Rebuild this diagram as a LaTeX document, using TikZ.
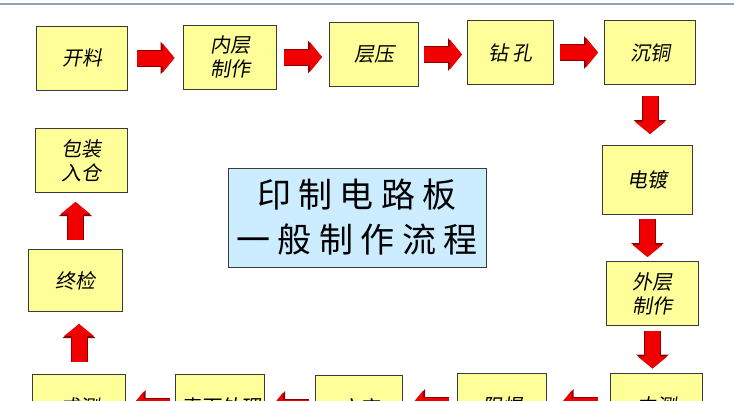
\documentclass[tikz,border=0pt]{standalone}
\usepackage{fontspec}
\usepackage{xcolor}
\newfontfamily\cjkit[FakeSlant=0.18]{Noto Sans CJK SC}
\newfontfamily\cjkti[LetterSpace=22]{Noto Sans CJK SC}
\usetikzlibrary{positioning,arrows.meta}
\definecolor{boxfill}{HTML}{FFFF99}
\definecolor{titlefill}{HTML}{CCECFF}
\definecolor{edge}{HTML}{3A3A3A}
\definecolor{rulec}{HTML}{8EA6BC}
\definecolor{arrred}{HTML}{F00000}
\definecolor{arrdark}{HTML}{8A0000}
\tikzset{
  box/.style={rectangle,draw=edge,fill=boxfill,line width=1pt,align=center,
    inner sep=0pt,minimum width=91pt,minimum height=64pt,
    font=\cjkit\fontsize{20}{24}\selectfont},
  titlebox/.style={rectangle,draw=edge,fill=titlefill,line width=1pt,align=center,
    inner sep=0pt,minimum width=258pt,minimum height=99pt,
    font=\cjkti\fontsize{34}{45}\selectfont},
  fl/.style={draw=arrred,line width=15pt,-{Triangle[length=12pt,width=29pt]},
    shorten <=#1,shorten >=#1,
    preaction={draw=arrdark,line width=17pt,-{Triangle[length=14pt,width=32pt]}}},
  fl/.default=7pt,
}

\begin{document}
\begin{tikzpicture}[x=1pt,y=1pt]
  \useasboundingbox (0,0) rectangle (734,-400);
  \clip (0,0) rectangle (734,-400);
  \draw[rulec,line width=2pt] (0,-4) -- (734,-4);
  % top row
  \node[box] (kl) at (82,-58) {开料};
  \node[box,right=55pt of kl,yshift=1pt,minimum width=93pt] (nc) {内层\\制作};
  \node[box,right=52pt of nc,yshift=2.5pt,minimum width=89pt] (cy) {层压};
  \node[box,right=48pt of cy,yshift=2pt,minimum width=86pt] (zk) {钻\ 孔};
  \node[box,right=50pt of zk] (ct) {沉铜};
  % right column
  \node[box,below=60pt of ct,xshift=-2.5pt,minimum width=90pt,minimum height=69pt] (dd) {电镀};
  \node[box,below=46pt of dd,xshift=5pt,minimum width=92pt] (wc) {外层\\制作};
  \node[box,below=47pt of wc,xshift=4pt,minimum width=92pt] (zc) {中测};
  % bottom row
  \node[box,left=63pt of zc,minimum width=89pt] (zh) {阻焊};
  \node[box,left=54pt of zh,yshift=-2pt,minimum width=87pt] (wz) {文字};
  \node[box,left=50pt of wz,yshift=1pt,minimum width=89pt] (bm) {表面处理};
  \node[box,left=49pt of bm,minimum width=93pt] (cs) {成测};
  % left column
  \node[box,above=62pt of cs,xshift=-3.5pt,minimum width=94pt,minimum height=62pt] (zj) {终检};
  \node[box,above=56pt of zj,xshift=6pt,minimum width=92pt] (bz) {包装\\入仓};
  % title
  \node[titlebox] (tt) at (357,-217.5) {印制电路板\\一般制作流程};
  \draw[fl=8.5pt] (kl.east) -- (kl.east -| nc.west);
  \draw[fl=7pt] (nc.east) -- (nc.east -| cy.west);
  \draw[fl=5pt] (cy.east) -- (cy.east -| zk.west);
  \draw[fl=6pt] (zk.east) -- (zk.east -| ct.west);
  \draw[fl=11pt] (ct.south) -- (ct.south |- dd.north);
  \draw[fl=4pt] (dd.south) -- (dd.south |- wc.north);
  \draw[fl=4.5pt] (wc.south) -- (wc.south |- zc.north);
  \draw[fl=12.5pt] (zc.west) -- (zc.west -| zh.east);
  \draw[fl=8pt] (zh.west) -- (zh.west -| wz.east);
  \draw[fl=6pt] (wz.west) -- (wz.west -| bm.east);
  \draw[fl=5.5pt] (bm.west) -- (bm.west -| cs.east);
  \draw[fl=12pt] (cs.north) -- (cs.north |- zj.south);
  \draw[fl=9pt] (zj.north) -- (zj.north |- bz.south);
\end{tikzpicture}
\end{document}
